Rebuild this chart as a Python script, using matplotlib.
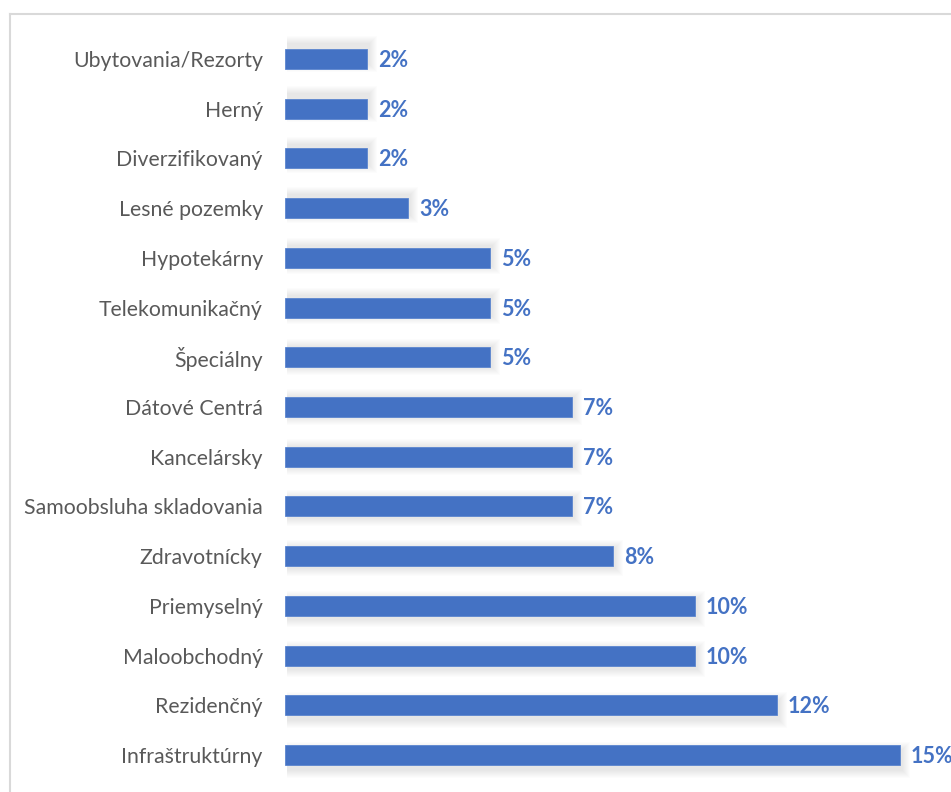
import matplotlib
matplotlib.use("Agg")
import matplotlib.pyplot as plt
from matplotlib.patches import Rectangle
from matplotlib.lines import Line2D

categories = ["Ubytovania/Rezorty", "Herný", "Diverzifikovaný", "Lesné pozemky",
              "Hypotekárny", "Telekomunikačný", "Špeciálny", "Dátové Centrá",
              "Kancelársky", "Samoobsluha skladovania", "Zdravotnícky",
              "Priemyselný", "Maloobchodný", "Rezidenčný", "Infraštruktúrny"]
values = [2, 2, 2, 3, 5, 5, 5, 7, 7, 7, 8, 10, 10, 12, 15]
labels = [f"{v}%" for v in values]

W, H = 951, 792
fig = plt.figure(figsize=(W / 100, H / 100), dpi=100)
fig.patch.set_facecolor("white")

ax_left = 285 / W
ax_right = 1.0
ax_top = 1 - 34 / H
ax_bot = 1 - 780 / H
ax = fig.add_axes([ax_left, ax_bot, ax_right - ax_left, ax_top - ax_bot])

px_per_x = 41.0
xmax = (W - 285) / px_per_x
n = len(categories)
px_per_y = (780 - 34) / n

ax.set_xlim(0, xmax)
ax.set_ylim(n - 0.5, -0.5)

bar_h = 20 / px_per_y
color = "#4472C4"

# soft shadows
for i, v in enumerate(values):
    dy_px = (i - 7) * 0.7
    dx_px = 2
    for k in range(8, 0, -1):
        ex = k * 1.0 / px_per_x
        ey = k * 1.0 / px_per_y
        ax.add_patch(Rectangle((dx_px / px_per_x, i - bar_h / 2 + dy_px / px_per_y - ey),
                               v + ex, bar_h + 2 * ey,
                               facecolor="black", alpha=0.012, edgecolor="none",
                               zorder=1, clip_on=True))

ax.barh(range(n), values, height=bar_h, color=color, edgecolor="#5b85cf",
        linewidth=0.6, zorder=3)

for i, (v, lab) in enumerate(zip(values, labels)):
    ax.text(v + 11 / px_per_x, i + 0.03, lab, va="center", ha="left", color=color,
            fontsize=15.5, fontweight="bold", family=["Lato", "DejaVu Sans"],
            zorder=4, clip_on=False)

ax.set_yticks(range(n))
ax.set_yticklabels(categories, family=["Lato", "DejaVu Sans"], fontsize=15.3,
                   color="#595959")
ax.tick_params(axis="y", length=0, pad=16)
ax.set_xticks([])
for s in ax.spines.values():
    s.set_visible(False)

# chart frame
fig.add_artist(Line2D([9.5 / W, 9.5 / W], [1 - 14 / H, 0], transform=fig.transFigure,
                      color="#d9d9d9", linewidth=1.5))
fig.add_artist(Line2D([9.5 / W, 950 / W], [1 - 14 / H, 1 - 14 / H], transform=fig.transFigure,
                      color="#d9d9d9", linewidth=1.5))

fig.savefig("out.png", dpi=100, facecolor="white")
